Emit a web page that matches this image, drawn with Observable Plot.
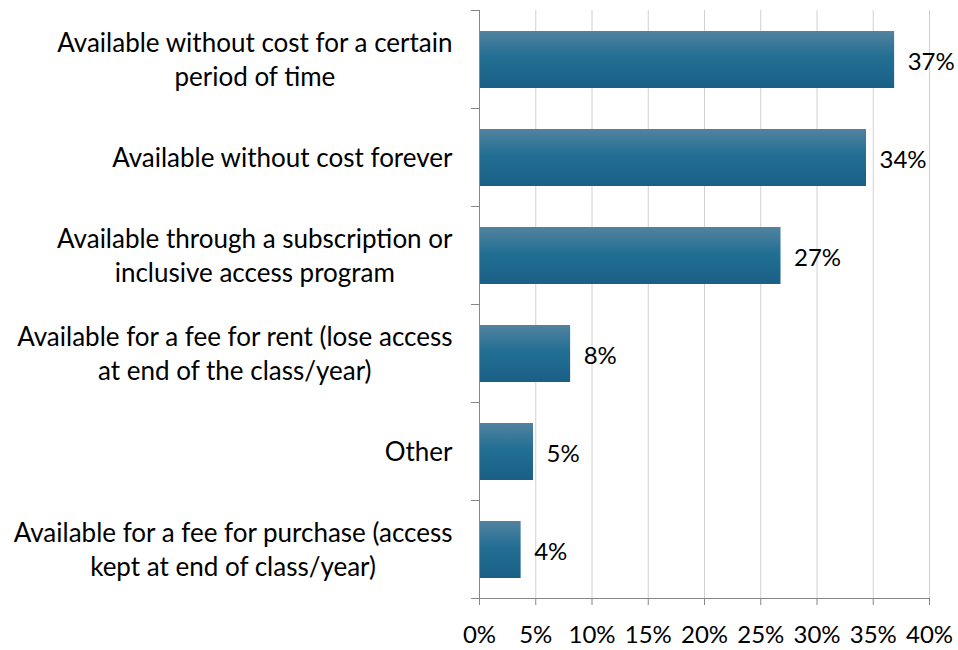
<!DOCTYPE html>
<html>
<head>
<meta charset="utf-8">
<script src="https://cdn.jsdelivr.net/npm/d3@7"></script>
<script src="https://cdn.jsdelivr.net/npm/@observablehq/plot@0.6"></script>
<style>
  html, body { margin: 0; padding: 0; background: #fff; }
  #chart svg { display: block; font-family: Lato, "Open Sans", sans-serif; }
</style>
</head>
<body>
<div id="chart"></div>
<script>
// ---- data ----
const categories = [
  "Available without cost for a certain\nperiod of time",
  "Available without cost forever",
  "Available through a subscription or\ninclusive access program",
  "Available for a fee for rent (lose access\nat end of the class/year)",
  "Other",
  "Available for a fee for purchase (access\nkept at end of class/year)"
];
const values = [36.9, 34.4, 26.8, 8.1, 4.8, 3.7];
const valueLabels = ["37%", "34%", "27%", "8%", "5%", "4%"];
const xTicks = [0, 5, 10, 15, 20, 25, 30, 35, 40];

const data = categories.map((c, i) => ({category: c, value: values[i], label: valueLabels[i]}));

const FONT = 24;
const CAT_FONT = 26;
const AXIS_GRAY = "#868686";

// gradient defs as a render-function mark
const gradientDefs = () => {
  const defs = d3.create("svg:defs");
  const g = defs.append("linearGradient")
    .attr("id", "barGrad").attr("x1", 0).attr("y1", 0).attr("x2", 0).attr("y2", 1);
  g.append("stop").attr("offset", "0%").attr("stop-color", "#52839f");
  g.append("stop").attr("offset", "45%").attr("stop-color", "#236f94");
  g.append("stop").attr("offset", "100%").attr("stop-color", "#1a5f86");
  return defs.node();
};

// axis lines + category separator ticks
const axisLines = (index, scales, values, dim) => {
  const g = d3.create("svg:g").attr("stroke", AXIS_GRAY).attr("stroke-width", 1);
  const x0 = dim.marginLeft, top = dim.marginTop, bottom = dim.height - dim.marginBottom;
  g.append("line").attr("x1", x0 + 0.5).attr("x2", x0 + 0.5).attr("y1", top).attr("y2", bottom);
  g.append("line").attr("x1", x0).attr("x2", dim.width - dim.marginRight).attr("y1", bottom + 0.5).attr("y2", bottom + 0.5);
  const n = categories.length;
  const step = (bottom - top) / n;
  for (let i = 0; i <= n; ++i) {
    const y = Math.round(top + i * step) + 0.5;
    g.append("line").attr("x1", x0 - 8).attr("x2", x0).attr("y1", y).attr("y2", y);
  }
  return g.node();
};

const chart = Plot.plot({
  width: 958,
  height: 650,
  marginLeft: 479,
  marginRight: 29,
  marginTop: 10,
  marginBottom: 52,
  style: {fontSize: FONT + "px", color: "#000", background: "#fff"},
  x: {domain: [0, 40]},
  y: {domain: categories, paddingInner: 0.42, paddingOuter: 0.21, axis: null},
  marks: [
    gradientDefs,
    Plot.gridX(xTicks, {stroke: "#d0d0d0", strokeOpacity: 1, strokeWidth: 1}),
    Plot.barX(data, {x: "value", y: "category", fill: "url(#barGrad)"}),
    Plot.text(data, {
      x: "value", y: "category", text: "label",
      textAnchor: "start", dx: 13, dy: 2, fontSize: FONT, fill: "#000"
    }),
    Plot.text(data, {
      y: "category", text: "category", frameAnchor: "left",
      textAnchor: "end", dx: -27, dy: -2, fontSize: CAT_FONT, fill: "#000",
      lineHeight: 1.3
    }),
    Plot.axisX({
      ticks: xTicks, tickFormat: d => d + "%", tickSize: 7, tickPadding: 20,
      stroke: AXIS_GRAY, fill: "#000", fontSize: FONT, label: null
    }),
    axisLines
  ]
});

document.getElementById("chart").append(chart);

// center each multi-line category label's lines relative to each other (right block edge fixed)
d3.select(chart).selectAll("text").each(function () {
  const tspans = Array.from(this.querySelectorAll("tspan"));
  if (tspans.length < 2) return;
  const W = d3.max(tspans, t => t.getComputedTextLength());
  this.setAttribute("text-anchor", "middle");
  tspans.forEach(t => t.setAttribute("x", -W / 2));
});
</script>
</body>
</html>
